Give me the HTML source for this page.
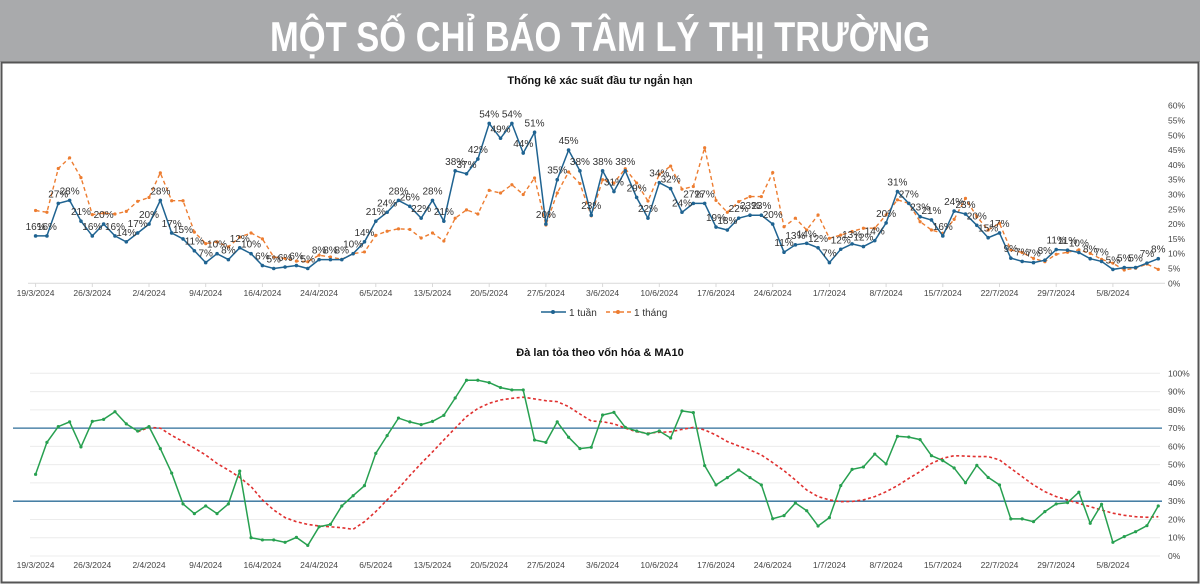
<!DOCTYPE html>
<html><head><meta charset="utf-8">
<style>
html,body{margin:0;padding:0;background:#fff;}
svg{display:block;font-family:"Liberation Sans",sans-serif;}
</style></head>
<body>
<svg id="c" width="1200" height="584" viewBox="0 0 1200 584">
  <rect x="0" y="0" width="1200" height="62" fill="#a9aaac"/>
  <text x="600" y="51" text-anchor="middle" fill="#fff" font-family="'Liberation Sans Narrow','Liberation Sans',sans-serif" font-weight="bold" font-size="42" textLength="660" lengthAdjust="spacingAndGlyphs">MỘT SỐ CHỈ BÁO TÂM LÝ THỊ TRƯỜNG</text>
  <rect x="1.5" y="62.5" width="1197" height="520" fill="none" stroke="#555" stroke-width="2"/>
  <text x="600" y="84" text-anchor="middle" font-size="11" font-weight="bold" fill="#111">Thống kê xác suất đầu tư ngắn hạn</text>
  <text x="600" y="356" text-anchor="middle" font-size="11" font-weight="bold" fill="#111">Đà lan tỏa theo vốn hóa &amp; MA10</text>
  <g id="topChart"></g>
  <g id="botChart"></g>
  <g>
    <line x1="541" y1="312" x2="566" y2="312" stroke="#1f6391" stroke-width="1.5"/>
    <circle cx="553" cy="312" r="2" fill="#1f6391"/>
    <text x="569" y="316" font-size="10" fill="#333">1 tuần</text>
    <line x1="606" y1="312" x2="631" y2="312" stroke="#ed7d31" stroke-width="1.5" stroke-dasharray="4,3"/>
    <circle cx="618" cy="312" r="2" fill="#ed7d31"/>
    <text x="634" y="316" font-size="10" fill="#333">1 tháng</text>
  </g>
</svg>
<script>
const dateTicks = ["19/3/2024","26/3/2024","2/4/2024","9/4/2024","16/4/2024","24/4/2024","6/5/2024","13/5/2024","20/5/2024","27/5/2024","3/6/2024","10/6/2024","17/6/2024","24/6/2024","1/7/2024","8/7/2024","15/7/2024","22/7/2024","29/7/2024","5/8/2024"];
const topTicks = [0,5,10,15,20,25,30,35,40,45,50,55,60];
const botTicks = [0,10,20,30,40,50,60,70,80,90,100];
const week1 = [16,16,27,28,21,16,20,16,14,17,20,28,17,15,11,7,10,8,12,10,6,5,5.5,6,5,8,8,8,10,14,21,24,28,26,22,28,21,38,37,42,54,49,54,44,51,20,35,45,38,23,38,31,38,29,22,34,32,24,27,27,19,18,22,23,23,20,10.5,13,13.5,12,7,11.5,13.3,12.4,14.4,20.4,31,27,22.5,21.4,16,24.4,23.4,19.6,15.4,17,8.5,7.4,7,7.8,11.4,11.2,10.4,8.3,7.4,4.7,5.3,5.3,6.8,8.3];
const month1 = [24.6,24,38.8,42.4,35.7,23.2,23.7,23.4,24.3,27.7,29,37.3,27.9,27.9,17.3,13.4,14,12.3,15.6,17,15,8.9,8.4,7.5,7.3,9.5,8.9,8.1,10,10.6,16.2,17.6,18.4,18.2,15.3,17,14.3,22,24.8,23.4,31.4,30.5,33.3,30,35.6,19.7,30.5,37.6,33.7,22.8,35,33.9,38.7,33.9,27.8,36.8,39.6,31.8,32.7,45.8,28,24,27.6,29.3,29.3,37.4,19.1,22,18,23.1,15.2,16.3,17.5,18.6,18.6,23.1,28.2,27,20.8,18,16.9,21.6,28.7,22.5,18,20.3,11.3,10.4,8.4,7.3,9.8,10.5,11.3,10.1,8.1,6.8,4.5,5.1,6.5,4.7];
const spread = [44.7,62.2,70.8,73.4,59.7,73.7,74.8,79,72.3,68.4,70.8,58.8,45.4,28.5,23.2,27.4,23.2,28.5,46.5,10,8.8,8.8,7.5,10.2,5.8,16,17.3,27.4,33,38.5,56.2,65.9,75.5,73.4,71.9,73.7,77,86.5,96.2,96.2,94.9,92.2,90.9,90.9,63.5,62.2,73.4,65,58.8,59.5,77.2,78.6,70.4,68.4,66.8,68.4,64.6,79.4,78.5,49.5,38.9,42.9,47.1,42.9,38.9,20.4,22.1,29,24.8,16.4,21,38.5,47.4,48.7,55.8,50.4,65.5,65.1,63.7,54.9,52.2,48.2,40.1,49.6,43,38.9,20.3,20.3,18.8,24.3,28.5,29.2,34.9,17.9,28.3,7.5,10.6,13.3,16.6,27.4];
const ma10 = [null,null,null,null,null,null,null,null,null,68,70.4,70,66,62.6,59,55.3,50.7,47,43,38,30.7,25.2,21,18.8,17.3,16.4,16,15.5,14.6,18.8,24.3,30.7,37,44,50.7,57,63.5,70,76.3,80.8,83.6,85.4,86.3,86.9,86,85,84.5,81.8,77.7,73.9,73.5,72.3,70,68,67.2,67.7,68,69.3,70.4,69,66.2,62.6,60.2,58,55.3,51.1,46.7,41.6,36.1,32.5,30.7,29.7,29.9,30.7,32.5,35.2,38.5,42.5,46.2,50.7,53.5,54.9,54.7,54.4,54.4,52.6,48,43.4,38.9,35.2,32.5,30.7,28.8,27,25.2,23.4,22.3,21.5,21.2,21.5];
const bands = [70,30];

const NS="http://www.w3.org/2000/svg";
function mk(parent,tag,attrs){const e=document.createElementNS(NS,tag);for(const k in attrs)e.setAttribute(k,attrs[k]);parent.appendChild(e);return e;}
const X0=35.6, DX=11.34;
function xAt(i){return X0+i*DX;}
function yTop(v){return 283.3-v*(177.6/60);}
function yBot(v){return 556-v*1.827;}
const topG=document.getElementById('topChart'), botG=document.getElementById('botChart');

const ax=mk(topG,'line',{x1:28,y1:283.3,x2:1165,y2:283.3,stroke:'#d9d9d9','stroke-width':1});


topTicks.forEach(v=>{
  const t=mk(topG,'text',{x:1168,y:yTop(v)+3,'font-size':8.5,fill:'#444'});
  
  
  t.textContent=v+'%';
});
dateTicks.forEach((d,k)=>{
  const x=xAt(k*5);
  const tl=mk(topG,'line',{x1:x,y1:283.3,x2:x,y2:287,stroke:'#d9d9d9'});
  
  
  const t=mk(topG,'text',{x:x,y:296,'font-size':8.5,fill:'#444','text-anchor':'middle'});
  
  
  t.textContent=d;
  const b=mk(botG,'text',{x:x,y:568,'font-size':8.5,fill:'#444','text-anchor':'middle'});
  
  
  b.textContent=d;
});
function poly(parent,arr,yf,attrs,name){
  const pts=[];arr.forEach((v,i)=>{if(v!==null)pts.push(xAt(i).toFixed(1)+','+yf(v).toFixed(1));});
  attrs.points=pts.join(' ');attrs.fill='none';
  const p=mk(parent,'polyline',attrs);
  
  
}
poly(topG,month1,yTop,{stroke:'#ed7d31','stroke-width':1.4,'stroke-dasharray':'4,3'},'series-1-thang');
month1.forEach((v,i)=>{const c=mk(topG,'circle',{cx:xAt(i),cy:yTop(v),r:1.6,fill:'#ed7d31'});
  
  });
poly(topG,week1,yTop,{stroke:'#1f6391','stroke-width':1.5},'series-1-tuan');
week1.forEach((v,i)=>{const c=mk(topG,'circle',{cx:xAt(i),cy:yTop(v),r:1.8,fill:'#1f6391'});
  
  
  const t=mk(topG,'text',{x:xAt(i),y:yTop(v)-6,'font-size':10,fill:'#333','text-anchor':'middle'});
  
  
  t.textContent=Math.round(v)+'%';});

botTicks.forEach(v=>{
  const g=mk(botG,'line',{x1:30,y1:yBot(v),x2:1160,y2:yBot(v),stroke:'#ececec'});
  
  
  const t=mk(botG,'text',{x:1168,y:yBot(v)+3,'font-size':8.5,fill:'#444'});
  
  
  t.textContent=v+'%';
});
bands.forEach(v=>{
  const l=mk(botG,'line',{x1:13,y1:yBot(v),x2:1162,y2:yBot(v),stroke:'#2e6e99','stroke-width':1.3});
  
  
});
poly(botG,ma10,yBot,{stroke:'#e0302f','stroke-width':1.6,'stroke-dasharray':'3,2.5'},'series-ma10');
poly(botG,spread,yBot,{stroke:'#27a050','stroke-width':1.5},'series-spread');
spread.forEach((v,i)=>{const c=mk(botG,'circle',{cx:xAt(i),cy:yBot(v),r:1.6,fill:'#27a050'});
  
  });
</script>
</body></html>
